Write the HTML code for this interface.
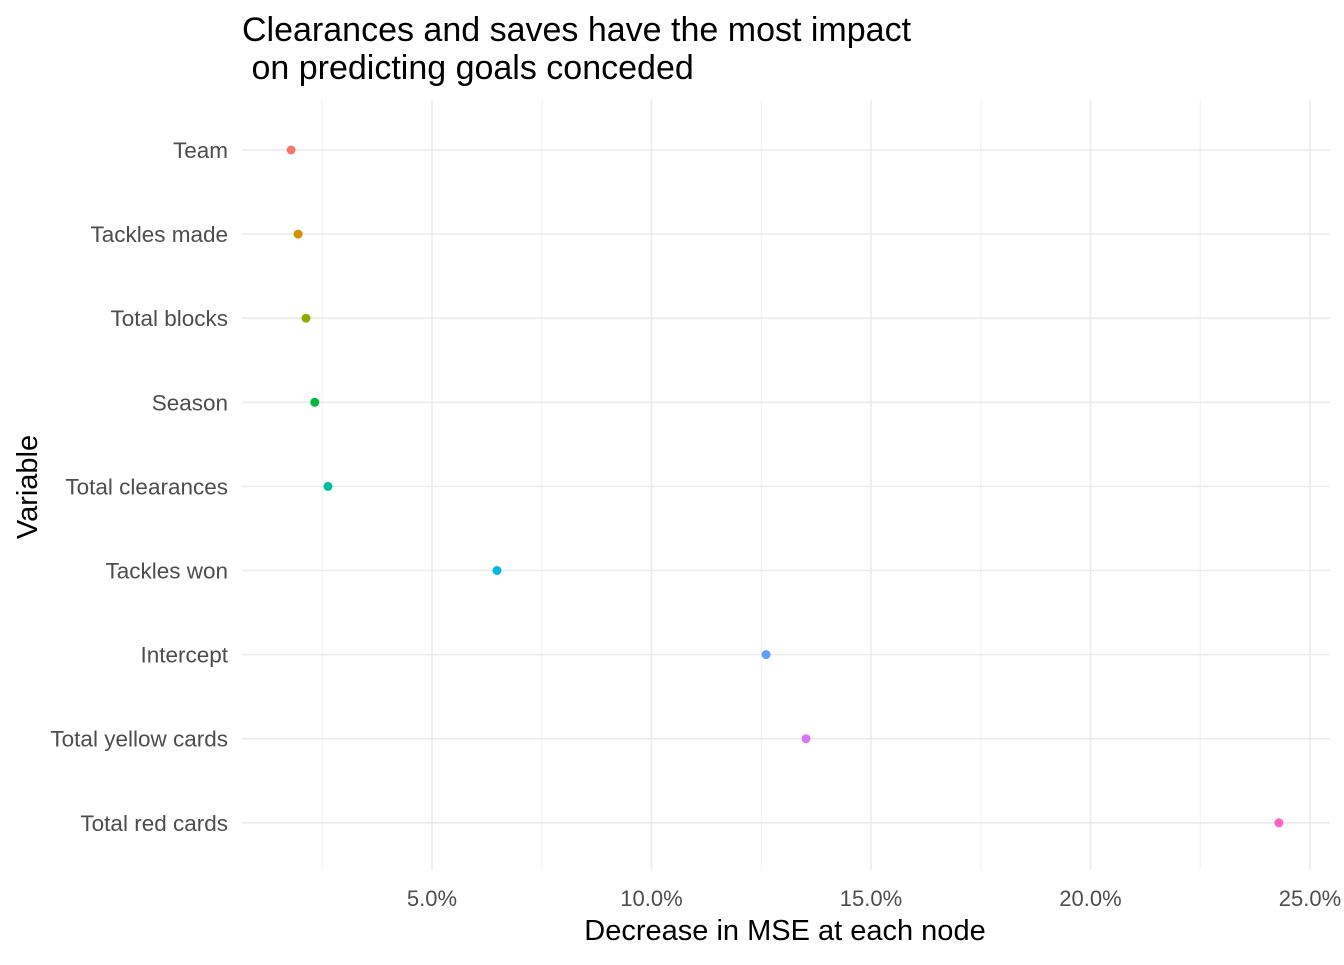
<!DOCTYPE html>
<html><head><meta charset="utf-8"><style>
body{margin:0;background:#fff;font-family:"Liberation Sans",sans-serif}
</style></head><body>
<svg width="1344" height="960" xmlns="http://www.w3.org/2000/svg" id="chart" font-family="Liberation Sans, sans-serif">
<text x="242" y="41" font-size="34" fill="#000">Clearances and saves have the most impact</text>
<text x="242" y="79" font-size="34" fill="#000" xml:space="preserve"> on predicting goals conceded</text>
<text x="785" y="940" font-size="29" text-anchor="middle" fill="#000">Decrease in MSE at each node</text>
<text transform="translate(37,487) rotate(-90)" font-size="29" text-anchor="middle" fill="#000">Variable</text>
<g id="grid"></g><g id="marks"></g>
</svg>
<script>
const categories=["Team","Tackles made","Total blocks","Season","Total clearances","Tackles won","Intercept","Total yellow cards","Total red cards"];
const values=[1.79,1.95,2.13,2.33,2.63,6.48,12.61,13.52,24.29];
const colors=["#F8766D","#D39200","#93AA00","#00BA38","#00C19F","#00B9E3","#619CFF","#DB72FB","#FF61C3"];
const xTicks=[5,10,15,20,25];
const xTickLabels=["5.0%","10.0%","15.0%","20.0%","25.0%"];
const minorTicks=[2.5,7.5,12.5,17.5,22.5];
const ns="http://www.w3.org/2000/svg";
const x=v=>212.5+v*43.9;
const y=i=>150+i*84.1;
const L=242,R=1330,T=100,B=870;
const grid=document.getElementById('grid'),marks=document.getElementById('marks');
function mk(t,a,p){const e=document.createElementNS(ns,t);for(const k in a)e.setAttribute(k,a[k]);p.appendChild(e);return e;}
minorTicks.forEach(v=>{const l=mk('line',{x1:x(v),x2:x(v),y1:T,y2:B,stroke:'#f0f0f0','stroke-width':1},grid);

});
xTicks.forEach((v,i)=>{const l=mk('line',{x1:x(v),x2:x(v),y1:T,y2:B,stroke:'#ebebeb','stroke-width':1.6},grid);


const t=mk('text',{x:x(v),y:906,'font-size':22,'text-anchor':'middle',fill:'#4d4d4d'},grid);t.textContent=xTickLabels[i];

});
categories.forEach((c,i)=>{const l=mk('line',{x1:L,x2:R,y1:y(i),y2:y(i),stroke:'#ebebeb','stroke-width':1.6},grid);


const t=mk('text',{x:228,y:y(i)+8,'font-size':22.5,'text-anchor':'end',fill:'#4d4d4d'},grid);t.textContent=c;


const p=mk('circle',{cx:x(values[i]),cy:y(i),r:4.5,fill:colors[i]},marks);

});
</script>
</body></html>
